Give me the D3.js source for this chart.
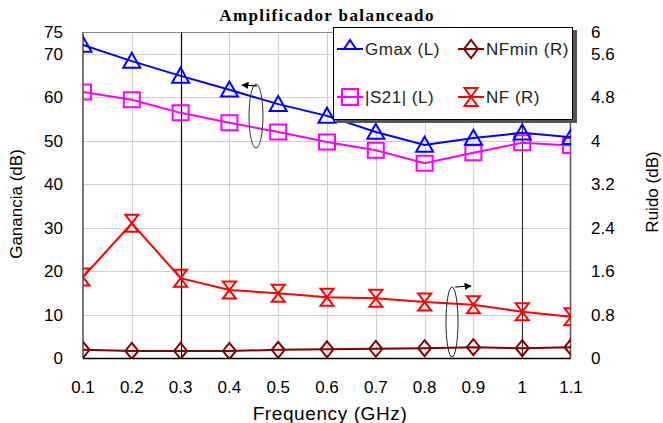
<!DOCTYPE html>
<html>
<head>
<meta charset="utf-8">
<title>Amplificador balanceado</title>
<style>
  body { margin: 0; background: #fff; }
  svg text { font-family: "Liberation Sans", Arial, sans-serif; fill: #000; }
  .grid line { stroke: #cfcfcf; stroke-width: 1; shape-rendering: crispEdges; }
</style>
</head>
<body>
<svg id="chart" width="663" height="423"></svg>
<script src="https://cdnjs.cloudflare.com/ajax/libs/d3/7.8.5/d3.min.js"></script>
<script>
// data
var freq = [0.1, 0.2, 0.3, 0.4, 0.5, 0.6, 0.7, 0.8, 0.9, 1.0, 1.1];
var gmax = [72, 68.3, 64.9, 61.7, 58.4, 55.7, 52, 49, 50.6, 51.8, 50.8];
var s21  = [61.2, 59.4, 56.4, 54.1, 52, 49.7, 47.8, 44.8, 47.2, 49.5, 48.9];
var nf   = [1.49, 2.48, 1.47, 1.25, 1.19, 1.12, 1.10, 1.03, 0.98, 0.85, 0.76];
var nfmin = [0.15, 0.13, 0.13, 0.13, 0.15, 0.16, 0.17, 0.18, 0.20, 0.18, 0.20];
var leftTicks = [0, 10, 20, 30, 40, 50, 60, 70, 75];
var rightTicks = [0, 0.8, 1.6, 2.4, 3.2, 4, 4.8, 5.6, 6];
var xTicks = freq;
var markerLines = [0.3, 1.0];

var pL = 83, pR = 571, pT = 32, pB = 358;
var svg = d3.select('#chart');

var x = d3.scaleLinear().domain([0.1, 1.1]).range([pL, pR]);
var yL = d3.scaleLinear().domain([0, 75]).range([pB, pT]);
var yR = d3.scaleLinear().domain([0, 6]).range([pB, pT]);

// grid
var grid = svg.append('g').attr('class', 'grid');
grid.selectAll('.h').data([10, 20, 30, 40, 50, 60, 70]).enter().append('line')
    .attr('x1', pL).attr('x2', pR)
    .attr('y1', d => Math.round(yL(d)) + 0.5).attr('y2', d => Math.round(yL(d)) + 0.5);
grid.selectAll('.v').data(xTicks.slice(1, -1)).enter().append('line')
    .attr('y1', pT).attr('y2', pB)
    .attr('x1', d => Math.round(x(d)) + 0.5).attr('x2', d => Math.round(x(d)) + 0.5);

// frame
svg.append('line').attr('x1', pL).attr('x2', pR).attr('y1', pT + 0.5).attr('y2', pT + 0.5)
    .attr('stroke', '#888').attr('stroke-width', 1);
svg.append('line').attr('x1', pR - 0.5).attr('x2', pR - 0.5).attr('y1', pT).attr('y2', pB)
    .attr('stroke', '#555').attr('stroke-width', 1.5);
svg.append('line').attr('x1', pL).attr('x2', pL).attr('y1', pT).attr('y2', pB)
    .attr('stroke', '#777').attr('stroke-width', 2);

// vertical marker lines
svg.selectAll('.mk').data(markerLines).enter().append('line')
    .attr('x1', d => Math.round(x(d)) + 0.5).attr('x2', d => Math.round(x(d)) + 0.5)
    .attr('y1', pT).attr('y2', pB)
    .attr('stroke', (d, i) => i == 0 ? '#000' : '#333').attr('stroke-width', 1.2);

svg.append('line').attr('x1', pL).attr('x2', pR).attr('y1', pB + 0.5).attr('y2', pB + 0.5)
    .attr('stroke', '#000').attr('stroke-width', 1.5);

// clip
svg.append('defs').append('clipPath').attr('id', 'plotclip')
  .append('rect').attr('x', pL).attr('y', pT - 12).attr('width', pR - pL).attr('height', pB - pT + 12);

// marker shapes, w = half width, h = half height
function shape(kind, w, h) {
  if (kind == 'tri') return 'M0,' + (-h * 1.1) + 'L' + w + ',' + (h * 0.9) + 'L' + (-w) + ',' + (h * 0.9) + 'Z';
  if (kind == 'sq') return 'M' + (-w) + ',' + (-h) + 'h' + 2 * w + 'v' + 2 * h + 'h' + (-2 * w) + 'Z';
  if (kind == 'dia') return 'M0,' + (-h) + 'L' + w + ',0L0,' + h + 'L' + (-w) + ',0Z';
  if (kind == 'hour') return 'M' + (-w) + ',' + (-h) + 'h' + 2 * w + 'L' + (-w) + ',' + h + 'h' + 2 * w + 'Z';
}

var series = [
  { vals: nfmin, y: yR, color: '#800000', kind: 'dia', w: 6.5, h: 8, lw: 7, lh: 9 },
  { vals: nf, y: yR, color: '#ff0000', kind: 'hour', w: 6.5, h: 8.5, lw: 6.5, lh: 9 },
  { vals: s21, y: yL, color: '#ff00ff', kind: 'sq', w: 8, h: 7.5, lw: 8, lh: 8 },
  { vals: gmax, y: yL, color: '#0000ff', kind: 'tri', w: 8.5, h: 7.5, lw: 6, lh: 4.5 }
];

var plot = svg.append('g').attr('clip-path', 'url(#plotclip)');
series.forEach(function(s) {
  var line = d3.line().x((d, i) => x(freq[i])).y(d => s.y(d));
  plot.append('path').attr('d', line(s.vals)).attr('fill', 'none')
      .attr('stroke', s.color).attr('stroke-width', 2);
  plot.selectAll(null).data(s.vals).enter().append('path')
      .attr('transform', (d, i) => 'translate(' + x(freq[i]) + ',' + s.y(d) + ')')
      .attr('d', shape(s.kind, s.w, s.h))
      .attr('fill', 'none').attr('stroke', s.color).attr('stroke-width', 2);
});

// annotation ellipses with arrows
svg.append('defs').append('marker').attr('id', 'arr').attr('viewBox', '0 0 10 10')
    .attr('refX', 9).attr('refY', 5).attr('markerWidth', 6).attr('markerHeight', 6).attr('orient', 'auto')
  .append('path').attr('d', 'M0,0L10,5L0,10Z').attr('fill', '#000');
svg.append('ellipse').attr('cx', 256).attr('cy', 116).attr('rx', 7).attr('ry', 32)
    .attr('fill', 'none').attr('stroke', '#333').attr('stroke-width', 1);
svg.append('line').attr('x1', 257).attr('y1', 86).attr('x2', 242).attr('y2', 85)
    .attr('stroke', '#000').attr('stroke-width', 1.2).attr('marker-end', 'url(#arr)');
svg.append('ellipse').attr('cx', 452).attr('cy', 322).attr('rx', 6).attr('ry', 35)
    .attr('fill', 'none').attr('stroke', '#222').attr('stroke-width', 1);
svg.append('line').attr('x1', 455).attr('y1', 287).attr('x2', 471).attr('y2', 286)
    .attr('stroke', '#000').attr('stroke-width', 1.2).attr('marker-end', 'url(#arr)');

// axes text
svg.selectAll('.lt').data(leftTicks).enter().append('text')
    .attr('x', 63).attr('y', d => yL(d) + 6).attr('text-anchor', 'end')
    .style('font-size', '17px').text(d => d);
svg.selectAll('.rt').data(rightTicks).enter().append('text')
    .attr('x', 591).attr('y', d => yR(d) + 6)
    .style('font-size', '17px').text(d => d);
svg.selectAll('.xt').data(xTicks).enter().append('text')
    .attr('x', d => x(d)).attr('y', 393).attr('text-anchor', 'middle')
    .style('font-size', '17px').text(d => d3.format('')(+d.toFixed(1)));

svg.append('text').attr('x', 330).attr('y', 420).attr('text-anchor', 'middle')
    .style('font-size', '19px').style('letter-spacing', '0.6px').text('Frequency (GHz)');
svg.append('text').attr('transform', 'translate(22,204) rotate(-90)').attr('text-anchor', 'middle')
    .style('font-size', '17px').text('Ganancia (dB)');
svg.append('text').attr('transform', 'translate(658,192) rotate(-90)').attr('text-anchor', 'middle')
    .style('font-size', '17px').text('Ruido (dB)');

svg.append('text').attr('x', 327).attr('y', 21).attr('text-anchor', 'middle')
    .style('font-family', '"Liberation Serif", "Times New Roman", serif')
    .style('font-weight', 'bold').style('font-size', '17px').style('letter-spacing', '1.4px')
    .text('Amplificador balanceado');

// legend
var lg = svg.append('g');
lg.append('rect').attr('x', 336).attr('y', 30).attr('width', 241).attr('height', 93).attr('fill', '#555');
lg.append('rect').attr('x', 333.5).attr('y', 27.5).attr('width', 239).attr('height', 92)
    .attr('fill', '#fff').attr('stroke', '#000').attr('stroke-width', 1);
var legendItems = [
  { name: 'Gmax (L)', s: series[3], lx: 337, ly: 49, dy: -4 },
  { name: 'NFmin (R)', s: series[0], lx: 458, ly: 49, dy: 0 },
  { name: '|S21| (L)', s: series[2], lx: 337, ly: 97, dy: 0 },
  { name: 'NF (R)', s: series[1], lx: 458, ly: 97, dy: 0 }
];
legendItems.forEach(function(it) {
  lg.append('line').attr('x1', it.lx).attr('x2', it.lx + 26).attr('y1', it.ly).attr('y2', it.ly)
      .attr('stroke', it.s.color).attr('stroke-width', 2);
  lg.append('path').attr('transform', 'translate(' + (it.lx + 13) + ',' + (it.ly + it.dy) + ')')
      .attr('d', shape(it.s.kind, it.s.lw, it.s.lh))
      .attr('fill', 'none').attr('stroke', it.s.color).attr('stroke-width', 2);
  lg.append('text').attr('x', it.lx + 28).attr('y', it.ly + 6)
      .style('font-size', '17px').style('letter-spacing', '0.5px').style('fill', '#222').text(it.name);
});
</script>
</body>
</html>
